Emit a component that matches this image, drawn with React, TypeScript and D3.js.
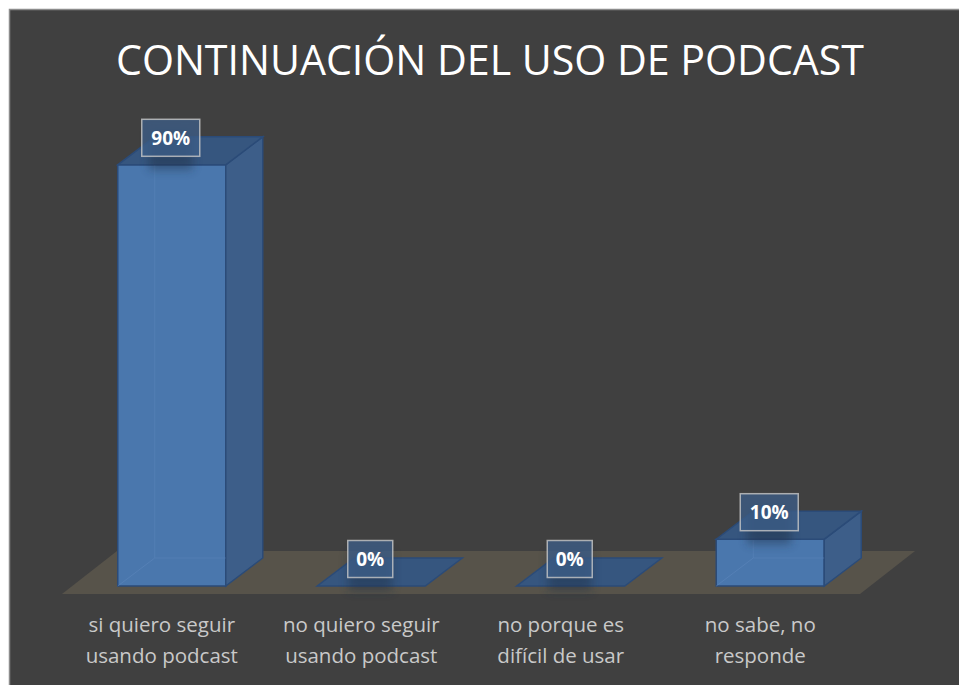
import React from "react";
import * as d3 from "d3";

const categories = [
  "si quiero seguir|usando podcast",
  "no quiero seguir|usando podcast",
  "no porque es|difícil de usar",
  "no sabe, no|responde",
];
const values = [90, 0, 0, 10];
const valueLabels = ["90%", "0%", "0%", "10%"];
const title = "CONTINUACIÓN DEL USO DE PODCAST";

const W = 959;
const H = 685;

export default function App() {
  const x = d3.scaleBand<string>().domain(categories).range([62, 860]).padding(0);
  const y = d3.scaleLinear().domain([0, 100]).range([586, 118]);

  const depthX = 37;
  const depthY = 28;
  const floorDX = 55;
  const floorDY = 43;
  const floorFront = 594;
  const barW = 108;

  const floorPts: [number, number][] = [
    [62, floorFront],
    [860, floorFront],
    [860 + floorDX, floorFront - floorDY],
    [62 + floorDX, floorFront - floorDY],
  ];
  const line = d3.line();

  return (
    <svg width={W} height={H} style={{ position: "absolute", left: 0, top: 0, display: "block" }}>
      <defs>
        <filter id="sh" x="-50%" y="-50%" width="200%" height="200%">
          <feGaussianBlur stdDeviation="5" />
        </filter>
      </defs>
      <rect x={0} y={0} width={W} height={H} fill="#ffffff" />
      <rect x={9.5} y={9.5} width={W + 20} height={H + 20} fill="#404040" stroke="#8c8c8c" strokeWidth={1.5} />
      <text
        x={490}
        y={75}
        textAnchor="middle"
        fill="#ffffff"
        fontFamily="'Open Sans', sans-serif"
        fontSize={42}
        textLength={748}
        lengthAdjust="spacingAndGlyphs"
      >
        {title}
      </text>
      <path d={line(floorPts) + "Z"} fill="#57534a" />
      {categories.map((c, i) => {
        const cx = (x(c) as number) + x.bandwidth() / 2;
        const x0 = cx + 10 - barW / 2;
        const x1 = x0 + barW;
        const yb = y(0);
        const yt = y(values[i]);
        const front: [number, number][] = [[x0, yt], [x1, yt], [x1, yb], [x0, yb]];
        const side: [number, number][] = [[x1, yt], [x1 + depthX, yt - depthY], [x1 + depthX, yb - depthY], [x1, yb]];
        const top: [number, number][] = [[x0, yt], [x1, yt], [x1 + depthX, yt - depthY], [x0 + depthX, yt - depthY]];
        const h = yb - yt;
        const lx = cx + 9;
        const ly = yt - 27;
        const lines = c.split("|");
        const wide = valueLabels[i].length > 2;
        return (
          <g key={c}>
            {h > 0 && (
              <>
                <path d={line(front) + "Z"} fill="#4a77ad" stroke="#2b4b78" strokeWidth={1.5} />
                <path d={line(side) + "Z"} fill="#3d5e89" stroke="#2b4b78" strokeWidth={1.5} />
                <line x1={x0} y1={yb} x2={x0 + depthX} y2={yb - depthY} stroke="#5b86bb" strokeOpacity={0.6} />
                <line x1={x0 + depthX} y1={yb - depthY} x2={x1} y2={yb - depthY} stroke="#5b86bb" strokeOpacity={0.5} />
                <line x1={x0 + depthX} y1={yt - depthY} x2={x0 + depthX} y2={yb - depthY} stroke="#5b86bb" strokeOpacity={0.5} />
              </>
            )}
            <path d={line(top) + "Z"} fill="#36567f" stroke="#2b4b78" strokeWidth={1.5} />
            <rect x={lx - 22} y={ly - 8} width={44} height={40} fill="#1e2e44" opacity={0.45} filter="url(#sh)" />
            <rect
              x={lx - (wide ? 29 : 22.5)}
              y={ly - 18.5}
              width={wide ? 58 : 45}
              height={37}
              fill="#3e5f8a"
              fillOpacity={0.75}
              stroke="#c8c8c8"
              strokeOpacity={0.8}
              strokeWidth={1.5}
            />
            <text
              x={lx}
              y={ly + 7}
              textAnchor="middle"
              fill="#ffffff"
              fontFamily="'Open Sans', sans-serif"
              fontWeight="bold"
              fontSize={19}
            >
              {valueLabels[i]}
            </text>
            {lines.map((t, j) => (
              <text
                key={j}
                x={cx}
                y={632 + j * 31}
                textAnchor="middle"
                fill="#c9c9c9"
                fontFamily="'Open Sans', sans-serif"
                fontSize={20.5}
              >
                {t}
              </text>
            ))}
          </g>
        );
      })}
    </svg>
  );
}
